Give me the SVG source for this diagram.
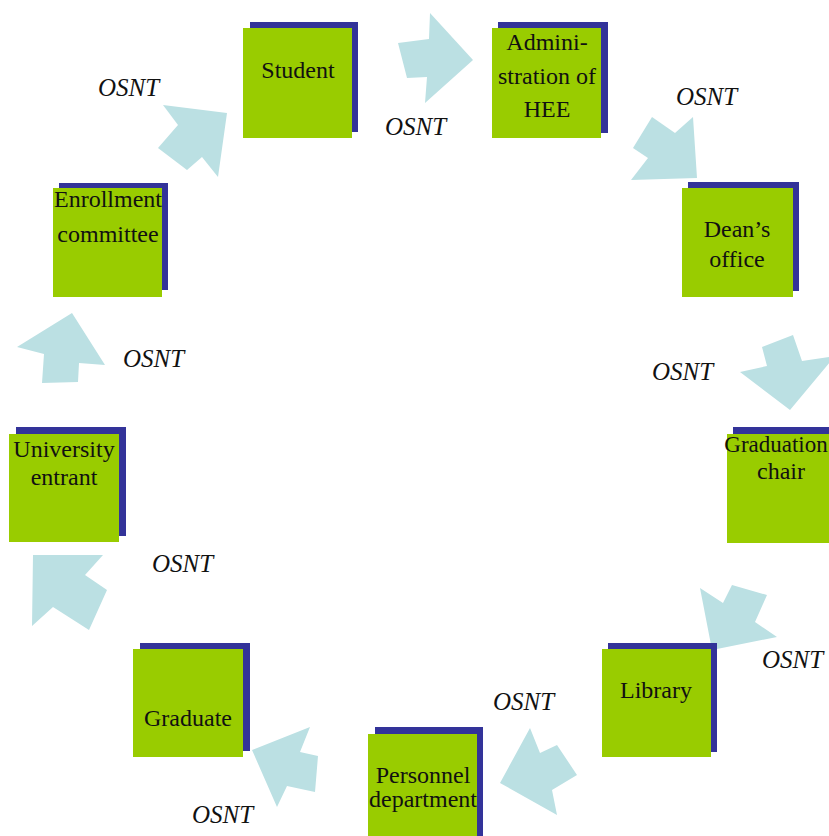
<svg xmlns="http://www.w3.org/2000/svg" width="829" height="836" viewBox="0 0 829 836">
<style>
.bg{fill:#ffffff}
.arrow{fill:#bbe0e3}
.shadow{fill:#333399}
.box{fill:#99cc00}
.t{font-family:"Liberation Serif","Times New Roman",serif;font-size:24px;fill:#111;text-anchor:middle}
.lbl{font-family:"Liberation Serif","Times New Roman",serif;font-size:25px;font-style:italic;fill:#111}
</style>
<rect class="bg" x="0" y="0" width="829" height="836"/>
<g id="connectors">
<polygon class="arrow" points="398,43 429,39 430,13 473,60 425,103 427,77 407,78"/>
<polygon class="arrow" points="652,117 675,133 693,117 697,178 631,180 648,158 633,148"/>
<polygon class="arrow" points="762,347 793,335 802,361 835,356 790,410 740,372 767,366"/>
<polygon class="arrow" points="700,588 723,603 732,585 767,595 755,622 777,637 712,650"/>
<polygon class="arrow" points="530,728 540,753 557,745 577,775 552,790 557,815 500,783"/>
<polygon class="arrow" points="252,750 310,727 300,752 318,756 315,792 287,786 277,807"/>
<polygon class="arrow" points="33,555 103,555 85,575 107,590 89,630 53,607 32,626"/>
<polygon class="arrow" points="72,313 105,365 79,363 78,382 42,383 44,354 17,347"/>
<polygon class="arrow" points="163,105 227,113 218,177 202,157 187,170 158,148 178,125"/>
<text class="lbl" x="98" y="96">OSNT</text>
<text class="lbl" x="385" y="135">OSNT</text>
<text class="lbl" x="676" y="105">OSNT</text>
<text class="lbl" x="652" y="380">OSNT</text>
<text class="lbl" x="762" y="668">OSNT</text>
<text class="lbl" x="493" y="710">OSNT</text>
<text class="lbl" x="192" y="823">OSNT</text>
<text class="lbl" x="152" y="572">OSNT</text>
<text class="lbl" x="123" y="367">OSNT</text>
</g>
<g id="student">
<rect class="shadow" x="250" y="22" width="108" height="110"/>
<rect class="box" x="243" y="28" width="109" height="110"/>
<text class="t" x="298" y="78">Student</text>
</g>
<g id="administration">
<rect class="shadow" x="498" y="22" width="110" height="111"/>
<rect class="box" x="492" y="28" width="109" height="110"/>
<text class="t" x="547" y="50">Admini-</text>
<text class="t" x="547" y="84">stration of</text>
<text class="t" x="547" y="117">HEE</text>
</g>
<g id="deans-office">
<rect class="shadow" x="688" y="182" width="111" height="109"/>
<rect class="box" x="682" y="188" width="111" height="109"/>
<text class="t" x="737" y="237">Dean’s</text>
<text class="t" x="737" y="267">office</text>
</g>
<g id="graduation-chair">
<rect class="shadow" x="733" y="427" width="110" height="109"/>
<rect class="box" x="727" y="434" width="109" height="109"/>
<text class="t" x="776" y="452" style="font-size:23px">Graduation</text>
<text class="t" x="781" y="479">chair</text>
</g>
<g id="library">
<rect class="shadow" x="608" y="643" width="109" height="109"/>
<rect class="box" x="602" y="649" width="109" height="108"/>
<text class="t" x="656" y="698">Library</text>
</g>
<g id="personnel-department">
<rect class="shadow" x="375" y="727" width="108" height="110"/>
<rect class="box" x="368" y="734" width="109" height="110"/>
<text class="t" x="423" y="783">Personnel</text>
<text class="t" x="423" y="807">department</text>
</g>
<g id="graduate">
<rect class="shadow" x="140" y="643" width="110" height="108"/>
<rect class="box" x="133" y="649" width="110" height="108"/>
<text class="t" x="188" y="726">Graduate</text>
</g>
<g id="university-entrant">
<rect class="shadow" x="16" y="427" width="110" height="109"/>
<rect class="box" x="9" y="434" width="110" height="108"/>
<text class="t" x="64" y="457">University</text>
<text class="t" x="64" y="485">entrant</text>
</g>
<g id="enrollment-committee">
<rect class="shadow" x="59" y="183" width="109" height="107"/>
<rect class="box" x="53" y="188" width="109" height="109"/>
<text class="t" x="108" y="207">Enrollment</text>
<text class="t" x="108" y="242">committee</text>
</g>
</svg>
